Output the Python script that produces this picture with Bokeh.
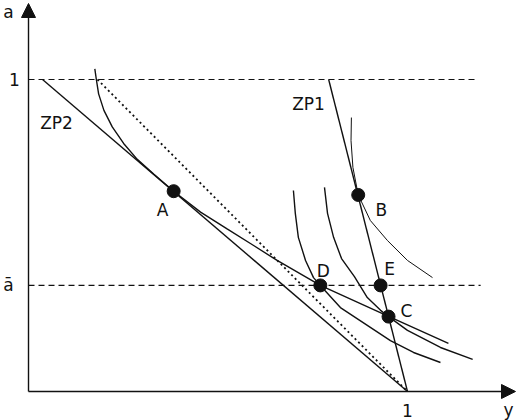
from bokeh.plotting import figure
from bokeh.models import Range1d, Arrow, NormalHead
from bokeh.core.properties import value
from bokeh.embed import file_html
from bokeh.resources import INLINE

# ---------------- data ----------------
a_bar = 0.34          # the "a-bar" level
a_one = 1.0           # the a = 1 level
y_one = 1.0           # y = 1 on the horizontal axis

# straight lines (y, a)
zp2_y = [0.037, 1.0]
zp2_a = [1.0, 0.0]
zp1_y = [0.792, 1.0]
zp1_a = [1.0, 0.0]
dot_y = [0.182, 1.0]
dot_a = [1.0, 0.0]

# indifference curve tangent to ZP2 at A, passing D and C
icA_y = [0.175, 0.179, 0.185, 0.199, 0.221, 0.251, 0.287, 0.331, 0.383,
         0.454, 0.524, 0.594, 0.656, 0.770, 0.950, 1.108]
icA_a = [1.034, 1.000, 0.954, 0.901, 0.848, 0.795, 0.744, 0.696, 0.642,
         0.575, 0.521, 0.468, 0.420, 0.340, 0.241, 0.154]

# curve through D
icD_y = [0.699, 0.704, 0.712, 0.731, 0.752, 0.770, 0.823, 0.894, 0.955, 1.016, 1.087]
icD_a = [0.644, 0.571, 0.494, 0.420, 0.365, 0.340, 0.269, 0.212, 0.163, 0.125, 0.093]

# curve through C
icC_y = [0.781, 0.789, 0.805, 0.826, 0.860, 0.894, 0.929, 0.950, 1.000, 1.087, 1.172]
icC_a = [0.654, 0.571, 0.494, 0.426, 0.368, 0.301, 0.260, 0.240, 0.196, 0.141, 0.103]

# thin curve tangent to ZP1 at B
icB_y = [0.852, 0.851, 0.856, 0.870, 0.902, 0.947, 1.000, 1.066]
icB_a = [0.878, 0.804, 0.718, 0.630, 0.548, 0.484, 0.420, 0.365]

# labelled points
pt_names = ["A", "B", "C", "D", "E"]
pt_y = [0.383, 0.870, 0.950, 0.770, 0.929]
pt_a = [0.642, 0.630, 0.240, 0.340, 0.340]

line_names = ["ZP1", "ZP2"]

# ---------------- figure ----------------
W, H = 520, 420
p = figure(width=W, height=H, output_backend="svg", toolbar_location=None,
           x_range=Range1d(-0.0739, 1.2982), y_range=Range1d(-0.0930, 1.2532),
           x_axis_location=None, y_axis_location=None, min_border=0)
p.xgrid.visible = False
p.ygrid.visible = False
p.outline_line_color = None
p.background_fill_color = "white"
p.border_fill_color = "white"

INK = "#111111"
LW = 1.4
FONT = value("DejaVu Sans")
FS = "17px"

# axes with arrow heads
x_tip = 1.2850
y_tip = 1.2436
p.add_layout(Arrow(x_start=0, y_start=0, x_end=0, y_end=y_tip, line_color=INK, line_width=LW,
                   end=NormalHead(size=14, fill_color=INK, line_color=INK, line_width=1)))
p.add_layout(Arrow(x_start=0, y_start=0, x_end=x_tip, y_end=0, line_color=INK, line_width=LW,
                   end=NormalHead(size=14, fill_color=INK, line_color=INK, line_width=1)))

# dashed levels
p.line([0, 1.187], [a_one, a_one], line_color=INK, line_width=1.2, line_dash="6 4")
p.line([0, 1.193], [a_bar, a_bar], line_color=INK, line_width=1.2, line_dash="6 4")

# straight lines
p.line(zp2_y, zp2_a, line_color=INK, line_width=LW)
p.line(zp1_y, zp1_a, line_color=INK, line_width=LW)
p.line(dot_y, dot_a, line_color=INK, line_width=1.8, line_dash="2 3")

# curves
p.line(icA_y, icA_a, line_color=INK, line_width=LW)
p.line(icD_y, icD_a, line_color=INK, line_width=LW)
p.line(icC_y, icC_a, line_color=INK, line_width=LW)
p.line(icB_y, icB_a, line_color=INK, line_width=1.0)

# points
p.scatter(pt_y, pt_a, size=13, marker="circle", fill_color=INK, line_color=INK)

# point labels
off_x = {"A": -11, "B": 23, "C": 18, "D": 3, "E": 9}
off_y = {"A": 19, "B": 15, "C": -6, "D": -14, "E": -16}
for n, yy, aa in zip(pt_names, pt_y, pt_a):
    p.text([yy], [aa], text=[n], x_offset=off_x[n], y_offset=off_y[n],
           text_align="center", text_baseline="middle",
           text_font=FONT, text_font_size=FS, text_color=INK)

# line labels
p.text([0.739], [0.923], text=[line_names[0]], text_align="center", text_baseline="middle",
       text_font=FONT, text_font_size=FS, text_color=INK)
p.text([0.074], [0.859], text=[line_names[1]], text_align="center", text_baseline="middle",
       text_font=FONT, text_font_size=FS, text_color=INK)

# tick / axis labels
p.text([0], [a_one], text=["1"], x_offset=-14, text_align="center", text_baseline="middle",
       text_font=FONT, text_font_size=FS, text_color=INK)
p.text([0], [a_bar], text=["ā"], x_offset=-20, text_align="center", text_baseline="middle",
       text_font=FONT, text_font_size=FS, text_color=INK)
p.text([0], [y_tip], text=["a"], x_offset=-20, y_offset=9, text_align="center", text_baseline="middle",
       text_font=FONT, text_font_size=FS, text_color=INK)
p.text([y_one], [0], text=["1"], y_offset=19, text_align="center", text_baseline="middle",
       text_font=FONT, text_font_size=FS, text_color=INK)
p.text([x_tip], [0], text=["y"], x_offset=-7, y_offset=19, text_align="center", text_baseline="middle",
       text_font=FONT, text_font_size=FS, text_color=INK)

open("out.html", "w").write(file_html(p, INLINE))
